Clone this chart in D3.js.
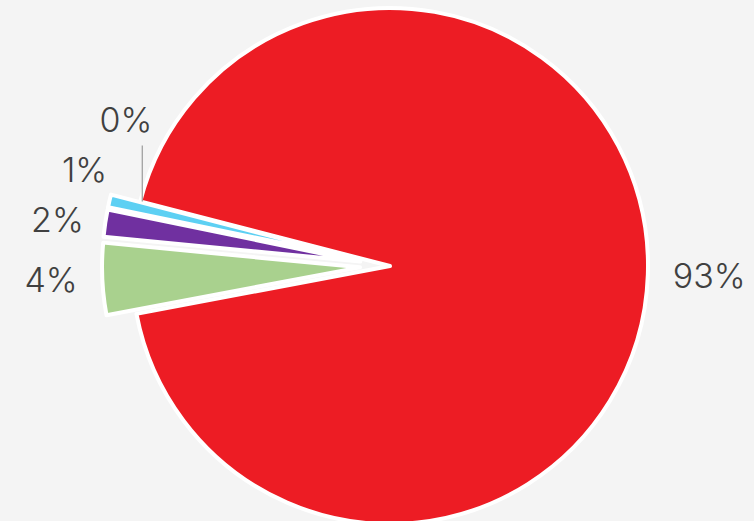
<!DOCTYPE html>
<html>
<head>
<meta charset="utf-8">
<script src="https://cdn.jsdelivr.net/npm/d3@7"></script>
<style>
  html, body { margin: 0; padding: 0; background: #f4f4f4; overflow: hidden; }
  .charts-text { font-family: Inter, "Open Sans", sans-serif; font-weight: 300; }
</style>
</head>
<body>
<div id="chart"></div>
<script>
/* global d3 */

const categories = ["Category A", "Category B", "Category C", "Category D", "Category E"];
const values = [93, 4.5, 1.7, 0.8, 0];
const percentLabels = ["93%", "4%", "2%", "1%", "0%"];
const sliced = [false, true, true, true, false];
const colors = ["#ed1c24", "#a9d18e", "#7030a0", "#5dd0f3", "#ffc000"];

function pieChart(id) {
    const width = 754;
    const height = 521;
    const cx = 390;
    const cy = 266;
    const radius = 258;
    const slicedOffset = 30;
    const labelGap = 25;
    const labelSpacing = 50;
    const startAngle = 284.5 * Math.PI / 180;

    const data = categories.map((c, i) => ({
        name: c,
        value: values[i],
        label: percentLabels[i],
        sliced: sliced[i],
        color: colors[i]
    }));

    const pie = d3.pie()
        .sort(null)
        .value(d => d.value)
        .startAngle(startAngle)
        .endAngle(startAngle + 2 * Math.PI);
    const arcs = pie(data);

    const arc = d3.arc().innerRadius(0).outerRadius(radius);
    const mid = d => (d.startAngle + d.endAngle) / 2;
    const shift = d => d.data.sliced ? slicedOffset : 0;

    const svg = d3.select('#' + id).append('svg')
        .attr("width", width)
        .attr("height", height)
        .attr("viewBox", [0, 0, width, height]);

    svg.append("rect")
        .attr("width", width)
        .attr("height", height)
        .attr("fill", "#f4f4f4");

    const g = svg.append("g")
        .attr("transform", `translate(${cx},${cy})`);

    g.append("g")
        .selectAll("path")
        .data(arcs.filter(d => d.value > 0))
        .join("path")
        .attr("transform", d => `translate(${Math.sin(mid(d)) * shift(d)},${-Math.cos(mid(d)) * shift(d)})`)
        .attr("d", arc)
        .attr("fill", d => d.data.color)
        .attr("stroke", "#fff")
        .attr("stroke-width", 4)
        .attr("stroke-linejoin", "round")
        .append("title")
        .text(d => d.data.name);

    // label layout: positions on an ellipse round the pie, pushed apart vertically
    const labels = arcs.map(d => ({
        d: d,
        side: Math.sin(mid(d)) < 0 ? -1 : 1
    }));
    [-1, 1].forEach(side => {
        const group = labels.filter(l => l.side === side);
        const anySliced = group.some(l => l.d.data.sliced);
        const R = radius + labelGap + (anySliced ? slicedOffset : 0);
        group.forEach(l => {
            l.R = R;
            l.y = -Math.cos(mid(l.d)) * R;
        });
        group.sort((a, b) => b.y - a.y);
        for (let i = 1; i < group.length; i++) {
            group[i].y = Math.min(group[i].y, group[i - 1].y - labelSpacing);
        }
        group.forEach(l => {
            const b = l.R * 0.72;
            l.x = side * l.R * Math.sqrt(Math.max(0, 1 - (l.y / b) * (l.y / b)));
        });
    });

    // connector for empty slices
    g.append("g")
        .selectAll("line")
        .data(labels.filter(l => l.d.value === 0))
        .join("line")
        .attr("x1", l => l.x + l.side * 10)
        .attr("x2", l => l.x + l.side * 10)
        .attr("y1", l => l.y + 26)
        .attr("y2", l => -Math.cos(mid(l.d)) * radius)
        .attr("stroke", "#9a9a9a")
        .attr("stroke-width", 1.2);

    g.append("g")
        .selectAll("text")
        .data(labels)
        .join("text")
        .attr("class", "charts-text")
        .attr("x", l => l.x)
        .attr("y", l => l.y)
        .attr("dy", "0.36em")
        .attr("text-anchor", l => l.side < 0 ? "end" : "start")
        .attr("font-size", 34)
        .attr("fill", "#404040")
        .text(l => l.d.data.label);
}

pieChart("chart");
</script>
</body>
</html>
